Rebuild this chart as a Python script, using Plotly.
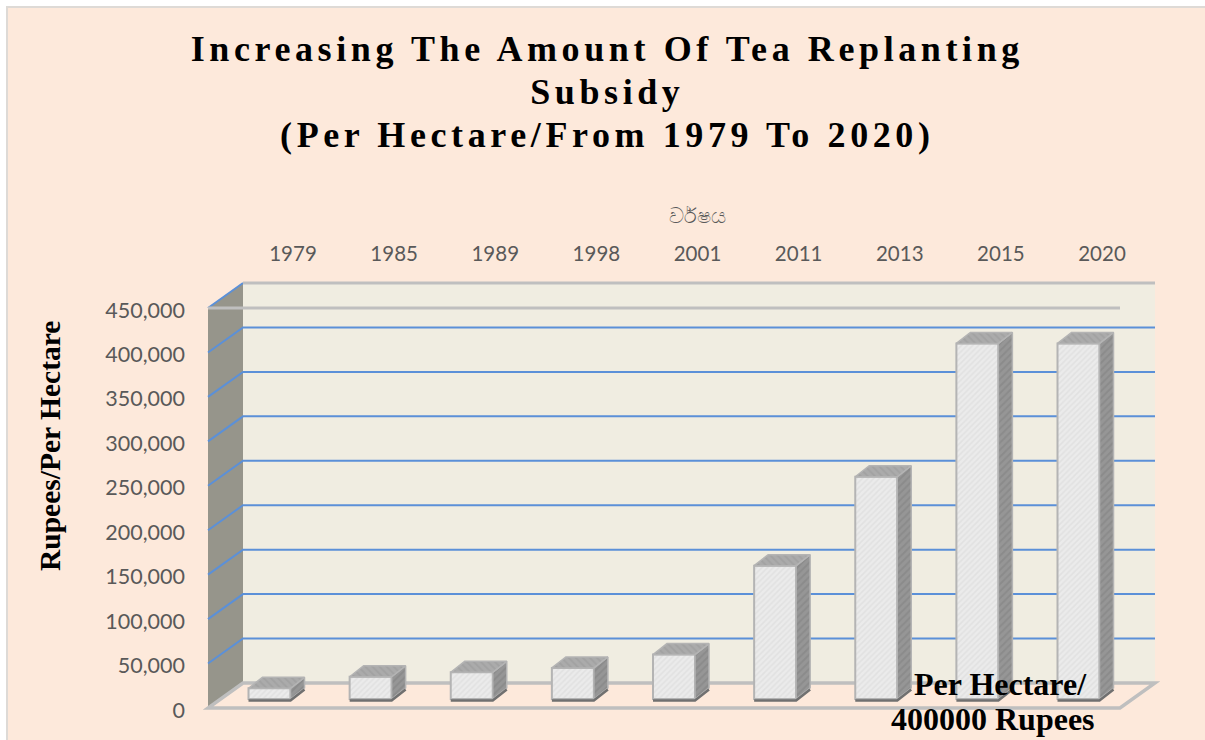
import plotly.graph_objects as go

years = ["1979", "1985", "1989", "1998", "2001", "2011", "2013", "2015", "2020"]
subsidy = [12000, 25000, 30000, 35000, 50000, 150000, 250000, 400000, 400000]
y_ticks = [0, 50000, 100000, 150000, 200000, 250000, 300000, 350000, 400000, 450000]

title_text = ("<b>Increasing The Amount Of Tea Replanting<br>Subsidy<br>"
              "(Per Hectare/From 1979 To 2020)</b>")
x_title = "වර්\u200cෂය"
y_title = "<b>Rupees/Per Hectare</b>"
note_1 = "<b>Per Hectare/</b>"
note_2 = "<b>400000 Rupees</b>"

# pixel geometry -> data-unit constants
W, H = 1205, 740
PL, PR, PT, PB = 203, 1160, 278, 713   # plot area (slightly larger than the walls)
L, R, T, B = 208, 1155, 283, 708       # wall box
PX_X = 101.125            # px per category
PX_Y = 400 / 450000       # px per rupee
X0 = 293                  # px of first category tick
xr = [(PL - X0) / PX_X, (PR - X0) / PX_X]
yr = [(B - PB) / PX_Y, (B - PT) / PX_Y]
wall_dx, wall_dy = 35 / PX_X, 25 / PX_Y
bar_dx, bar_dy = 14 / PX_X, 11 / PX_Y
bar_w = 42 / PX_X
bar_shift = -23.5 / PX_X
bar_base = 9 / PX_Y
foot_drop = 1.5 / PX_Y
left = (L - X0) / PX_X
right_back = (R - X0) / PX_X
right_front = right_back - wall_dx
left_back = left + wall_dx
wall_top = (B - T) / PX_Y


def fx(px):
    return (px - PL) / (PR - PL)


def fy(py):
    return (PB - py) / (PB - PT)


BG = "#fde9db"
EDGE = "#dedad6"
WALL = "#f0ede1"
SIDEWALL = "#96958b"
AXISLINE = "#bfbfbf"
GRID = "#5b90d8"
BAR_EDGE = "#b4b4b4"
TICK = "#595959"

fig = go.Figure()

shapes = [
    dict(type="rect", xref="paper", yref="paper", x0=fx(7), x1=fx(W + 10), y0=fy(7), y1=fy(H + 10),
         fillcolor=BG, line=dict(color=EDGE, width=2), layer="below"),
    dict(type="rect", x0=left_back, x1=right_back, y0=wall_dy, y1=wall_top,
         fillcolor=WALL, line_width=0, layer="below"),
    dict(type="path", path=f"M{left},0 L{left_back},{wall_dy} L{left_back},{wall_top} "
                           f"L{left},{y_ticks[-1]} Z",
         fillcolor=SIDEWALL, line_width=0, layer="below"),
]
for v in y_ticks[1:-1]:
    shapes.append(dict(type="path", layer="below",
                       path=f"M{left},{v} L{left_back},{v + wall_dy} L{right_back},{v + wall_dy}",
                       line=dict(color=GRID, width=2)))
top = y_ticks[-1]
shapes += [
    dict(type="line", x0=left, x1=left_back, y0=top, y1=wall_top, layer="below",
         line=dict(color=GRID, width=2)),
    dict(type="line", x0=left_back, x1=right_back, y0=wall_top, y1=wall_top, layer="below",
         line=dict(color=AXISLINE, width=3)),
    dict(type="line", x0=left, x1=right_front, y0=top, y1=top, layer="below",
         line=dict(color=AXISLINE, width=3)),
    dict(type="path", layer="below",
         path=f"M{left},0 L{right_front},0 L{right_back},{wall_dy} L{left_back},{wall_dy} Z",
         line=dict(color=AXISLINE, width=3.5)),
]

xs = [i + bar_shift for i in range(len(years))]

# front faces
fig.add_trace(go.Bar(
    x=xs, y=subsidy, base=bar_base, width=bar_w, showlegend=False,
    marker=dict(color="#ebebeb", line=dict(color=BAR_EDGE, width=2),
                pattern=dict(shape="/", fgcolor="#d8d8d8", bgcolor="#ebebeb",
                             size=4, solidity=0.4)),
))

side_x, side_y, top_x, top_y, foot_x, foot_y = [], [], [], [], [], []
for x, v in zip(xs, subsidy):
    xa, xb = x - bar_w / 2, x + bar_w / 2
    t = bar_base + v
    side_x += [xb, xb + bar_dx, xb + bar_dx, xb, xb, None]
    side_y += [bar_base, bar_base + bar_dy, t + bar_dy, t, bar_base, None]
    top_x += [xa, xb, xb + bar_dx, xa + bar_dx, xa, None]
    top_y += [t, t, t + bar_dy, t + bar_dy, t, None]
    foot_x += [xa, xb, xb + bar_dx, None]
    foot_y += [bar_base - foot_drop, bar_base - foot_drop, bar_base + bar_dy - foot_drop, None]

fig.add_trace(go.Scatter(
    x=side_x, y=side_y, mode="lines", fill="toself", showlegend=False, hoverinfo="skip",
    line=dict(color=BAR_EDGE, width=1.5), fillcolor="#8f8f8f",
    fillpattern=dict(shape="/", fgcolor="#7f7f7f", bgcolor="#969696", size=5, solidity=0.4),
))
fig.add_trace(go.Scatter(
    x=top_x, y=top_y, mode="lines", fill="toself", showlegend=False, hoverinfo="skip",
    line=dict(color=BAR_EDGE, width=1.5), fillcolor="#a6a6a6",
    fillpattern=dict(shape="\\", fgcolor="#999999", bgcolor="#ababab", size=5, solidity=0.4),
))
fig.add_trace(go.Scatter(
    x=foot_x, y=foot_y, mode="lines", showlegend=False, hoverinfo="skip",
    line=dict(color="#707070", width=2.5),
))


def label(text, px, py, size, color="#000000", family="Liberation Serif", angle=0):
    return dict(text=text, xref="paper", yref="paper", x=fx(px), y=fy(py), showarrow=False,
                xanchor="center", yanchor="middle", textangle=angle, align="center",
                font=dict(family=family, size=size, color=color))


fig.update_layout(
    width=W, height=H, margin=dict(l=PL, r=W - PR, t=PT, b=H - PB),
    paper_bgcolor="#ffffff", plot_bgcolor="rgba(0,0,0,0)", shapes=shapes, showlegend=False,
    title=dict(text=title_text, x=0.504, xanchor="center", y=0.917, yanchor="top",
               font=dict(family="Liberation Serif", size=36, color="#000000")),
    xaxis=dict(range=xr, side="top", tickmode="array", tickvals=list(range(len(years))),
               ticktext=years, showgrid=False, zeroline=False, showline=False, ticks="",
               ticklabelstandoff=12, tickfont=dict(family="Lato", size=20.5, color=TICK)),
    yaxis=dict(range=yr, tickmode="array", tickvals=y_ticks, tickformat=",",
               showgrid=False, zeroline=False, showline=False, ticks="",
               ticklabelstandoff=17, ticklabelshift=2,
               tickfont=dict(family="Lato", size=21.5, color=TICK)),
    annotations=[
        label(note_1, 1000, 684, 32),
        label(note_2, 993, 719, 32),
        label(y_title, 50, 446, 29.5, angle=-90),
        label(x_title, 697, 215, 21, color=TICK, family="Noto Sans, Lato"),
    ],
)

post = """
document.body.style.margin='0';
document.querySelectorAll('.gtitle').forEach(function(t){
  t.style.letterSpacing='4.6px';
  var lines=t.querySelectorAll('tspan.line');
  lines.forEach(function(s,i){ if(i>0) s.setAttribute('dy',(i*43)+'px'); });
});
"""
fig.write_html("out.html", post_script=post, config=dict(displayModeBar=False))
